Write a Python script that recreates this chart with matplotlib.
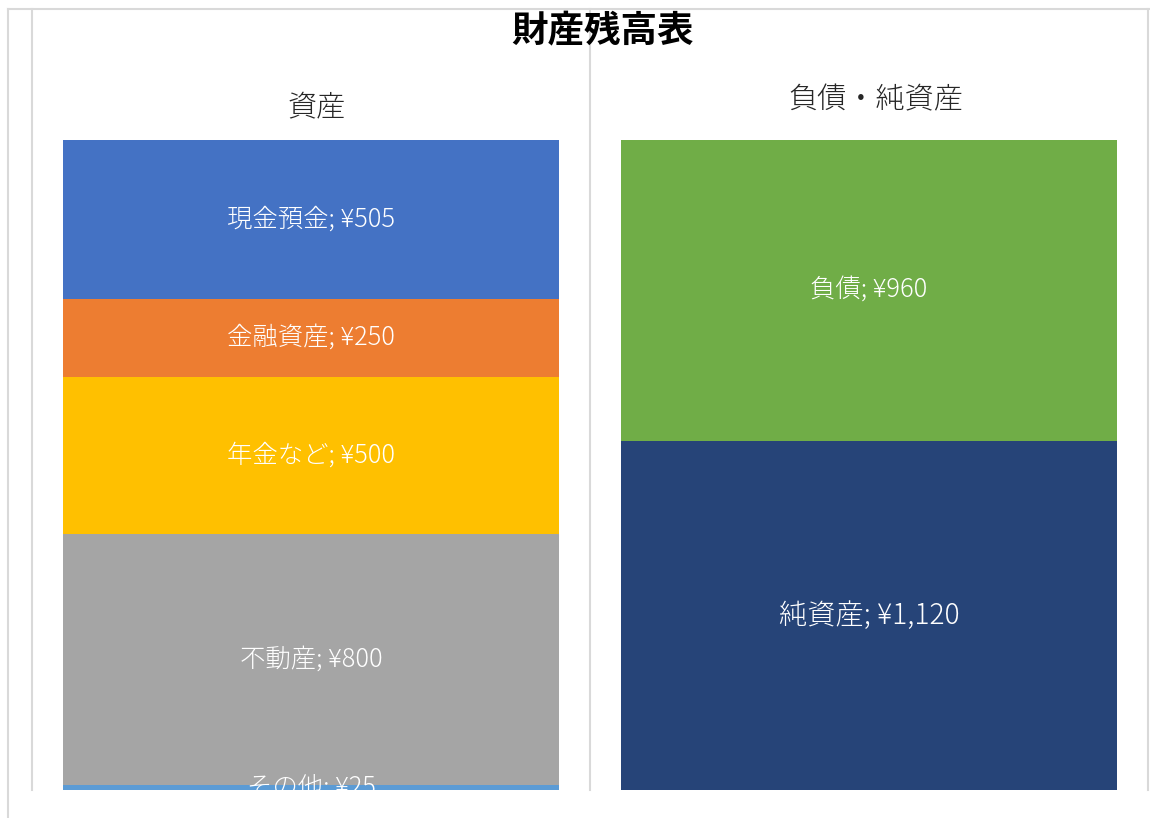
import matplotlib
matplotlib.use("Agg")
import matplotlib.pyplot as plt
from matplotlib.lines import Line2D

plt.rcParams['font.family'] = ['Noto Sans CJK JP', 'DejaVu Sans']

# --- data ---
categories = ["資産", "負債・純資産"]
asset_names = ["その他", "不動産", "年金など", "金融資産", "現金預金"]
asset_values = [25, 800, 500, 250, 505]
asset_colors = ["#5B9BD5", "#A5A5A5", "#FFC000", "#ED7D31", "#4472C4"]
liab_names = ["純資産", "負債"]
liab_values = [1120, 960]
liab_colors = ["#264478", "#70AD47"]

W, H = 1150, 818
fig = plt.figure(figsize=(W / 100, H / 100), dpi=100)
ax = fig.add_axes([32 / W, (H - 790) / H, (1148 - 32) / W, (790 - 9) / H])

bar_w = 0.889

def stack(x, names, values, colors, big=()):
    bottom = 0
    for name, v, c in zip(names, values, colors):
        bars = ax.bar(x, v, bottom=bottom, width=bar_w, color=c, zorder=2)
        fs = 20.3 if name in big else 18.3
        ax.bar_label(bars, labels=[f"{name}; ¥{v:,}"], label_type="center",
                     color="white", fontsize=fs, fontweight="light",
                     clip_on=True, zorder=3)
        bottom += v

stack(0, asset_names, asset_values, asset_colors)
stack(1, liab_names, liab_values, liab_colors, big=("純資産",))

# bottom of the plot area cuts the bars a little (as in the source chart)
ax.set_xlim(-0.5, 1.5)
ax.set_ylim(8, 2498)
for gx in [-0.5, 0.5, 1.5]:
    ax.axvline(gx, color="#d9d9d9", lw=1.5, clip_on=False, zorder=1)
for s in ax.spines.values():
    s.set_visible(False)
ax.set_xticks([])
ax.set_yticks([])

# category labels above bars
fig.text(317 / W, 1 - 107 / H, categories[0], ha="center", va="center",
         fontsize=21, fontweight="light", color="#262626")
fig.text(876 / W, 1 - 100 / H, categories[1], ha="center", va="center",
         fontsize=21, fontweight="light", color="#262626")

# title
fig.text(603 / W, 1 - 32 / H, "財産残高表", ha="center", va="center", fontsize=26.3,
         fontweight="bold", color="black")

# outer chart border
fig.add_artist(Line2D([8 / W, 8 / W], [1 - 9 / H, 0], color="#d9d9d9", lw=1.5))
fig.add_artist(Line2D([8 / W, 1], [1 - 9 / H, 1 - 9 / H], color="#d9d9d9", lw=1.5))

fig.savefig("out.png", dpi=100)
